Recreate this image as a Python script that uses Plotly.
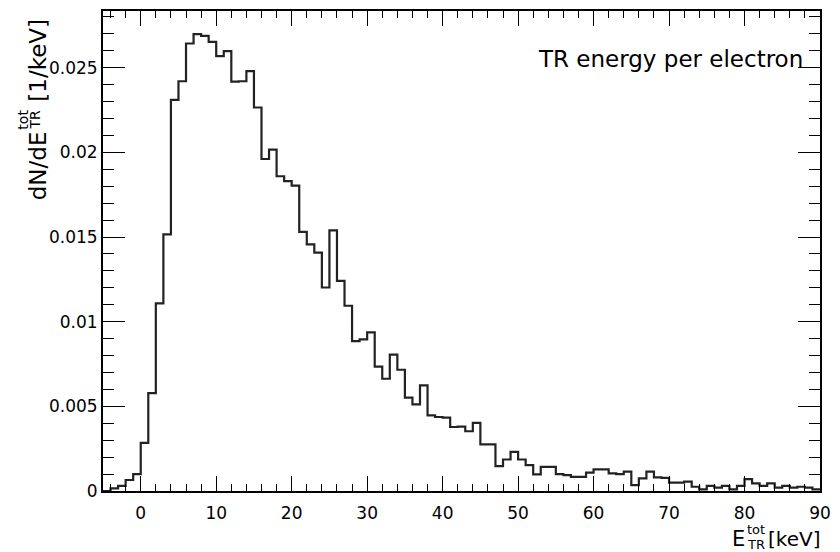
import plotly.graph_objects as go

# Histogram of total TR energy per electron, 1 keV bins from -5 to 90 keV
bin_low_edges = list(range(-5, 90))
bin_width = 1
counts = [
    0.0, 0.00016, 0.0003, 0.00065, 0.0010,            # -5 .. -1
    0.00284, 0.00578, 0.01108, 0.01516, 0.0231,       # 0 .. 4
    0.0242, 0.02643, 0.02698, 0.02688, 0.02653,       # 5 .. 9
    0.02569, 0.02598, 0.02418, 0.0242, 0.0248,        # 10 .. 14
    0.02265, 0.01961, 0.02016, 0.01859, 0.0183,       # 15 .. 19
    0.01804, 0.01531, 0.01457, 0.01408, 0.01202,      # 20 .. 24
    0.01539, 0.01241, 0.01094, 0.00885, 0.00896,      # 25 .. 29
    0.00937, 0.00735, 0.00663, 0.00806, 0.00716,      # 30 .. 34
    0.00551, 0.00512, 0.00624, 0.00447, 0.00437,      # 35 .. 39
    0.00433, 0.00378, 0.0038, 0.00353, 0.00402,       # 40 .. 44
    0.00275, 0.00275, 0.00147, 0.00186, 0.00231,      # 45 .. 49
    0.00186, 0.00153, 0.00098, 0.00143, 0.00143,      # 50 .. 54
    0.0010, 0.00094, 0.00084, 0.00084, 0.00108,       # 55 .. 59
    0.00128, 0.00128, 0.00104, 0.0010, 0.00114,       # 60 .. 64
    0.00035, 0.00075, 0.00114, 0.0008, 0.00078,       # 65 .. 69
    0.00049, 0.00049, 0.00055, 0.00025, 0.0001,       # 70 .. 74
    0.0003, 0.0002, 0.0003, 0.0001, 0.0003,           # 75 .. 79
    0.0007, 0.00045, 0.0003, 0.00045, 0.0002,         # 80 .. 84
    0.0003, 0.0002, 0.00025, 0.0002, 0.0001,          # 85 .. 89
]

x_ticks = list(range(0, 100, 10))
y_ticks = [0, 0.005, 0.01, 0.015, 0.02, 0.025]
y_tick_text = ["0", "0.005", "0.01", "0.015", "0.02", "0.025"]

x_range = [-5, 90]
y_range = [0, 0.02835]

FONT = "DejaVu Sans"

# step outline: every bin edge, last level repeated to close the final bin
step_x = bin_low_edges + [bin_low_edges[-1] + bin_width]
step_y = counts + [counts[-1]]

fig = go.Figure()
fig.add_trace(go.Scatter(
    x=step_x, y=step_y, mode="lines",
    line=dict(shape="hv", color="#222222", width=2.2),
    hoverinfo="skip", showlegend=False,
))

W, H = 840, 552
L, R, T, B = 103, 10, 9, 61
PW, PH = W - L - R, H - T - B


def px(x):
    return (x - L) / PW


def py(y):
    return (H - B - y) / PH


axis_common = dict(
    showgrid=False, zeroline=False, showline=True, linecolor="black",
    linewidth=2, mirror="allticks", ticks="inside", tickcolor="black",
    tickwidth=1, tickfont=dict(family=FONT, size=17, color="black"),
)

fig.update_xaxes(
    range=x_range, tickvals=x_ticks, ticklen=15, ticklabelstandoff=6,
    minor=dict(dtick=2, ticks="inside", ticklen=7, tickcolor="black", tickwidth=1),
    **axis_common,
)
fig.update_yaxes(
    range=y_range, tickvals=y_ticks, ticktext=y_tick_text, ticklen=22,
    minor=dict(dtick=0.001, ticks="inside", ticklen=11, tickcolor="black", tickwidth=1),
    **axis_common,
)

ann = []
# caption in the upper right
ann.append(dict(x=px(815), y=py(57), text="TR energy per electron",
                xanchor="right", yanchor="middle",
                font=dict(family=FONT, size=23, color="black")))

# x axis title: E with stacked tot / TR, then unit
ann.append(dict(x=px(747), y=py(539), text="E", xanchor="center", yanchor="middle",
                font=dict(family=FONT, size=21, color="black"), borderpad=0))
ann.append(dict(x=px(765), y=py(530), text="tot", xanchor="center", yanchor="middle",
                font=dict(family=FONT, size=13, color="black"), borderpad=0))
ann.append(dict(x=px(765), y=py(545), text="TR", xanchor="center", yanchor="middle",
                font=dict(family=FONT, size=13, color="black"), borderpad=0))
ann.append(dict(x=px(804), y=py(539), text="[keV]", xanchor="center", yanchor="middle",
                font=dict(family=FONT, size=20, color="black"), borderpad=0))

# y axis title, rotated: dN/dE with stacked tot / TR, then unit
ann.append(dict(x=px(37), y=py(164), text="dN/dE", textangle=-90,
                xanchor="center", yanchor="middle",
                font=dict(family=FONT, size=23, color="black")))
ann.append(dict(x=px(21), y=py(118), text="tot", textangle=-90,
                xanchor="center", yanchor="middle",
                font=dict(family=FONT, size=14, color="black")))
ann.append(dict(x=px(34), y=py(118), text="TR", textangle=-90,
                xanchor="center", yanchor="middle",
                font=dict(family=FONT, size=14, color="black")))
ann.append(dict(x=px(37), y=py(58), text="[1/keV]", textangle=-90,
                xanchor="center", yanchor="middle",
                font=dict(family=FONT, size=23, color="black")))

for a in ann:
    a.update(xref="paper", yref="paper", showarrow=False)

fig.update_layout(
    width=W, height=H,
    margin=dict(l=L, r=R, t=T, b=B),
    paper_bgcolor="white", plot_bgcolor="white",
    annotations=ann,
)

fig.write_html("out.html")
